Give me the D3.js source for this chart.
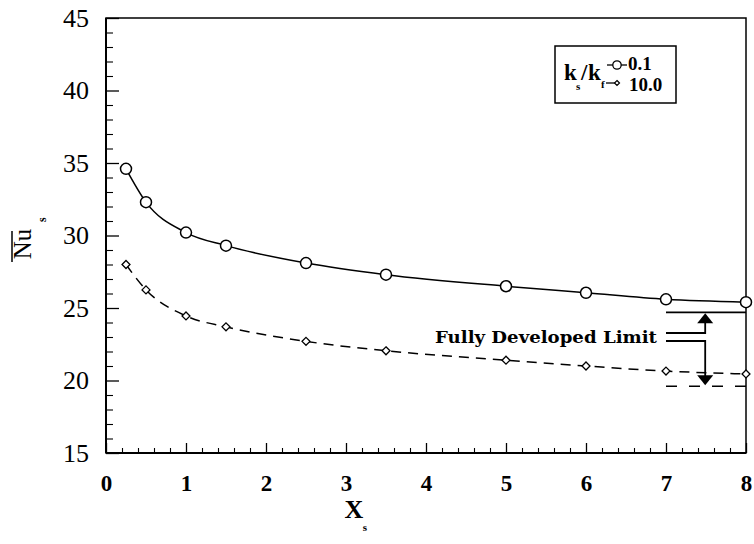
<!DOCTYPE html>
<html><head><meta charset="utf-8">
<script src="https://cdn.jsdelivr.net/npm/d3@7"></script>
<style>body{margin:0;background:#fff}svg{display:block}</style>
</head><body>
<script>
// ---- data ----
const xPoints = [0.25, 0.5, 1, 1.5, 2.5, 3.5, 5, 6, 7, 8];
const nuLow = [34.6, 32.3, 30.2, 29.3, 28.1, 27.3, 26.5, 26.05, 25.6, 25.4];   // ks/kf = 0.1
const nuHigh = [28.0, 26.25, 24.45, 23.7, 22.7, 22.05, 21.4, 21.0, 20.65, 20.45]; // ks/kf = 10.0
const xTicks = [0, 1, 2, 3, 4, 5, 6, 7, 8];
const yTicks = [15, 20, 25, 30, 35, 40, 45];
const seriesLabels = ["0.1", "10.0"];
const fullyDeveloped = [24.7, 19.6]; // limits for 0.1 and 10.0
const limitRange = [7, 8];
const arrowX = 7.49;
const annotationText = "Fully Developed Limit";

const SERIF = "'Liberation Serif','Times New Roman',serif";
const W = 754, H = 544;
const m = {l: 106, r: 8, t: 18, b: 91};
const svg = d3.select("body").append("svg").attr("width", W).attr("height", H)
  .style("font-family", SERIF);
const x = d3.scaleLinear().domain([0, 8]).range([m.l, W - m.r]);
const y = d3.scaleLinear().domain([15, 45]).range([H - m.b, m.t]);

// frame
svg.append("rect").attr("x", x(0)).attr("y", y(45)).attr("width", x(8) - x(0)).attr("height", y(15) - y(45))
  .attr("fill", "none").attr("stroke", "#000").attr("stroke-width", 1.5);
svg.append("line").attr("x1", x(0)).attr("x2", x(0)).attr("y1", y(45)).attr("y2", y(15)).attr("stroke", "#000").attr("stroke-width", 2);
svg.append("line").attr("x1", x(0)).attr("x2", x(8)).attr("y1", y(15)).attr("y2", y(15)).attr("stroke", "#000").attr("stroke-width", 2);

// x axis ticks (inward)
const xMinor = d3.range(0, 8.0001, 0.2).filter(v => Math.abs(v - Math.round(v)) > 1e-6);
const gx = svg.append("g").attr("transform", `translate(0,${y(15)})`)
  .call(d3.axisBottom(x).tickValues(xTicks).tickSize(-10).tickPadding(22).tickFormat(d3.format("d")));
gx.attr("font-family", SERIF);
gx.select(".domain").remove();
gx.selectAll("line").attr("stroke-width", 1.3);
gx.selectAll("text").attr("font-size", 23).attr("font-weight", "bold").style("font-family", SERIF);
const gxm = svg.append("g").attr("transform", `translate(0,${y(15)})`)
  .call(d3.axisBottom(x).tickValues(xMinor).tickSize(-5).tickFormat(""));
gxm.select(".domain").remove();
gxm.selectAll("line").attr("stroke-width", 1.1);

// y axis ticks (inward)
const yMinor = d3.range(15, 45.001, 1).filter(v => v % 5 !== 0);
const gy = svg.append("g").attr("transform", `translate(${x(0)},0)`)
  .call(d3.axisLeft(y).tickValues(yTicks).tickSize(-13).tickPadding(17).tickFormat(d3.format("d")));
gy.attr("font-family", SERIF);
gy.select(".domain").remove();
gy.selectAll("line").attr("stroke-width", 1.3);
gy.selectAll("text").attr("font-size", 26).style("font-family", SERIF);
const gym = svg.append("g").attr("transform", `translate(${x(0)},0)`)
  .call(d3.axisLeft(y).tickValues(yMinor).tickSize(-7).tickFormat(""));
gym.select(".domain").remove();
gym.selectAll("line").attr("stroke-width", 1.1);

// axis titles
svg.append("text").attr("x", 354).attr("y", 518).attr("text-anchor", "middle")
  .attr("font-size", 26).attr("font-weight", "bold").text("X");
svg.append("text").attr("x", 365).attr("y", 531).attr("text-anchor", "middle")
  .attr("font-size", 11).attr("font-weight", "bold").text("s");
const yt = svg.append("g").attr("transform", "translate(22,244) rotate(-90)");
yt.append("text").attr("x", 0).attr("y", 0).attr("dy", "0.35em").attr("text-anchor", "middle")
  .attr("font-size", 25).text("Nu");
yt.append("line").attr("x1", -18).attr("x2", 13).attr("y1", -10).attr("y2", -10).attr("stroke", "#000").attr("stroke-width", 1.5);
yt.append("text").attr("x", 22).attr("y", 24).attr("font-size", 12).attr("font-weight", "bold").text("s");

// series
const line = d3.line().x(d => x(d[0])).y(d => y(d[1])).curve(d3.curveMonotoneX);
const lowData = xPoints.map((v, i) => [v, nuLow[i]]);
const highData = xPoints.map((v, i) => [v, nuHigh[i]]);
svg.append("path").datum(lowData).attr("d", line).attr("fill", "none").attr("stroke", "#000").attr("stroke-width", 1.5);
svg.append("path").datum(highData).attr("d", line).attr("fill", "none").attr("stroke", "#000").attr("stroke-width", 1.5)
  .attr("stroke-dasharray", "10,7");
svg.selectAll("circle.pt").data(lowData).enter().append("circle").attr("class", "pt")
  .attr("cx", d => x(d[0])).attr("cy", d => y(d[1])).attr("r", 5.5)
  .attr("fill", "#fff").attr("stroke", "#000").attr("stroke-width", 1.5);
const diamond = d3.symbol().type(d3.symbolDiamond2).size(40);
svg.selectAll("path.dm").data(highData).enter().append("path").attr("class", "dm")
  .attr("transform", d => `translate(${x(d[0])},${y(d[1])})`).attr("d", diamond)
  .attr("fill", "#fff").attr("stroke", "#000").attr("stroke-width", 1.3);

// fully developed limits
svg.append("line").attr("x1", x(limitRange[0])).attr("x2", x(limitRange[1]))
  .attr("y1", y(fullyDeveloped[0])).attr("y2", y(fullyDeveloped[0])).attr("stroke", "#000").attr("stroke-width", 1.6);
svg.append("line").attr("x1", x(limitRange[0])).attr("x2", x(limitRange[1]))
  .attr("y1", y(fullyDeveloped[1])).attr("y2", y(fullyDeveloped[1])).attr("stroke", "#000").attr("stroke-width", 1.6)
  .attr("stroke-dasharray", "11,12");

// annotation
const ax = x(arrowX), cx0 = x(limitRange[0]);
const cUp = 333, cDn = 341;
svg.append("text").attr("x", 657).attr("y", 343).attr("text-anchor", "end")
  .style("font-family", "'DejaVu Serif',serif").attr("font-size", 17).attr("font-weight", "bold")
  .attr("textLength", 222).attr("lengthAdjust", "spacingAndGlyphs").text(annotationText);
const yUp = y(fullyDeveloped[0]), yDn = y(fullyDeveloped[1]);
svg.append("path").attr("d", `M${cx0},${cUp}H${ax}V${yUp + 10}`).attr("fill", "none").attr("stroke", "#000").attr("stroke-width", 1.8);
svg.append("path").attr("d", `M${cx0},${cDn}H${ax}V${yDn - 10}`).attr("fill", "none").attr("stroke", "#000").attr("stroke-width", 1.8);
svg.append("path").attr("d", `M${ax},${yUp + 1}L${ax - 8},${yUp + 11}L${ax + 8},${yUp + 11}Z`).attr("fill", "#000");
svg.append("path").attr("d", `M${ax},${yDn - 1}L${ax - 8},${yDn - 11}L${ax + 8},${yDn - 11}Z`).attr("fill", "#000");

// legend
const lg = svg.append("g");
lg.append("rect").attr("x", 555).attr("y", 46).attr("width", 121).attr("height", 57)
  .attr("fill", "#fff").attr("stroke", "#000").attr("stroke-width", 1.5);
lg.append("text").attr("x", 564).attr("y", 80).attr("font-size", 23).attr("font-weight", "bold").text("k");
lg.append("text").attr("x", 576).attr("y", 90).attr("font-size", 11).attr("font-weight", "bold").text("s");
lg.append("text").attr("x", 581).attr("y", 80).attr("font-size", 23).attr("font-weight", "bold").text("/");
lg.append("text").attr("x", 588).attr("y", 80).attr("font-size", 23).attr("font-weight", "bold").text("k");
lg.append("text").attr("x", 601).attr("y", 88).attr("font-size", 11).attr("font-weight", "bold").text("f");
lg.append("line").attr("x1", 607).attr("x2", 627).attr("y1", 65).attr("y2", 65).attr("stroke", "#000").attr("stroke-width", 1.3);
lg.append("circle").attr("cx", 617).attr("cy", 65).attr("r", 4.2).attr("fill", "#fff").attr("stroke", "#000").attr("stroke-width", 1.3);
lg.append("line").attr("x1", 606).attr("x2", 616).attr("y1", 83).attr("y2", 83).attr("stroke", "#000").attr("stroke-width", 1.3);
lg.append("path").attr("transform", "translate(617,83)").attr("d", d3.symbol().type(d3.symbolDiamond2).size(16))
  .attr("fill", "#fff").attr("stroke", "#000").attr("stroke-width", 1.2);
lg.append("text").attr("x", 628).attr("y", 70).attr("font-size", 19).attr("font-weight", "bold").text(seriesLabels[0]);
lg.append("text").attr("x", 629).attr("y", 91).attr("font-size", 19).attr("font-weight", "bold").text(seriesLabels[1]);
</script>
</body></html>
